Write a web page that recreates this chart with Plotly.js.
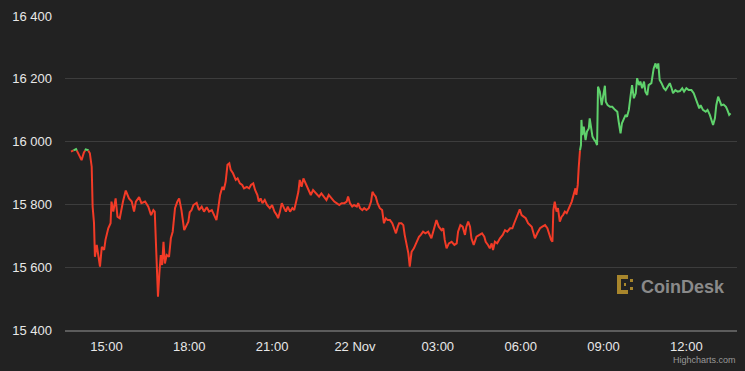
<!DOCTYPE html>
<html>
<head>
<meta charset="utf-8">
<script src="https://cdn.plot.ly/plotly-3.0.1.min.js"></script>
<style>
  html, body { margin: 0; padding: 0; background: #222222; }
  #chart { width: 745px; height: 371px; }
</style>
</head>
<body>
<div id="chart"></div>
<script>
// ---- Data (BTC price, 21-22 Nov 2022) ----
const times = [
  "2022-11-21 13:43","2022-11-21 13:54","2022-11-21 14:02","2022-11-21 14:06","2022-11-21 14:11","2022-11-21 14:15","2022-11-21 14:20","2022-11-21 14:24","2022-11-21 14:28","2022-11-21 14:30",
  "2022-11-21 14:33","2022-11-21 14:35","2022-11-21 14:39","2022-11-21 14:42","2022-11-21 14:46","2022-11-21 14:50","2022-11-21 14:55","2022-11-21 14:58","2022-11-21 15:04","2022-11-21 15:09",
  "2022-11-21 15:11","2022-11-21 15:15","2022-11-21 15:20","2022-11-21 15:24","2022-11-21 15:29","2022-11-21 15:36","2022-11-21 15:42","2022-11-21 15:49","2022-11-21 15:55","2022-11-21 16:00",
  "2022-11-21 16:04","2022-11-21 16:11","2022-11-21 16:16","2022-11-21 16:24","2022-11-21 16:31","2022-11-21 16:37","2022-11-21 16:42","2022-11-21 16:45","2022-11-21 16:47","2022-11-21 16:49",
  "2022-11-21 16:52","2022-11-21 16:55","2022-11-21 16:58","2022-11-21 17:01","2022-11-21 17:04","2022-11-21 17:07","2022-11-21 17:11","2022-11-21 17:16","2022-11-21 17:20","2022-11-21 17:24",
  "2022-11-21 17:29","2022-11-21 17:34","2022-11-21 17:38","2022-11-21 17:43","2022-11-21 17:49","2022-11-21 17:53","2022-11-21 17:58","2022-11-21 18:01","2022-11-21 18:05","2022-11-21 18:09",
  "2022-11-21 18:16","2022-11-21 18:21","2022-11-21 18:27","2022-11-21 18:32","2022-11-21 18:38","2022-11-21 18:43","2022-11-21 18:49","2022-11-21 18:54","2022-11-21 18:59","2022-11-21 19:03",
  "2022-11-21 19:07","2022-11-21 19:12","2022-11-21 19:15","2022-11-21 19:19","2022-11-21 19:23","2022-11-21 19:27","2022-11-21 19:30","2022-11-21 19:35","2022-11-21 19:41","2022-11-21 19:45",
  "2022-11-21 19:50","2022-11-21 19:55","2022-11-21 19:59","2022-11-21 20:05","2022-11-21 20:10","2022-11-21 20:14","2022-11-21 20:19","2022-11-21 20:23","2022-11-21 20:28","2022-11-21 20:31",
  "2022-11-21 20:35","2022-11-21 20:39","2022-11-21 20:44","2022-11-21 20:49","2022-11-21 20:55","2022-11-21 21:00","2022-11-21 21:05","2022-11-21 21:10","2022-11-21 21:13","2022-11-21 21:17",
  "2022-11-21 21:21","2022-11-21 21:26","2022-11-21 21:30","2022-11-21 21:34","2022-11-21 21:39","2022-11-21 21:44","2022-11-21 21:48","2022-11-21 21:53","2022-11-21 21:57","2022-11-21 22:00",
  "2022-11-21 22:04","2022-11-21 22:08","2022-11-21 22:13","2022-11-21 22:18","2022-11-21 22:24","2022-11-21 22:29","2022-11-21 22:35","2022-11-21 22:42","2022-11-21 22:47","2022-11-21 22:52",
  "2022-11-21 22:58","2022-11-21 23:03","2022-11-21 23:09","2022-11-21 23:15","2022-11-21 23:20","2022-11-21 23:26","2022-11-21 23:31","2022-11-21 23:37","2022-11-21 23:42","2022-11-21 23:45",
  "2022-11-21 23:49","2022-11-21 23:54","2022-11-21 23:58","2022-11-22 00:04","2022-11-22 00:07","2022-11-22 00:11","2022-11-22 00:16","2022-11-22 00:20","2022-11-22 00:25","2022-11-22 00:30",
  "2022-11-22 00:35","2022-11-22 00:38","2022-11-22 00:42","2022-11-22 00:45","2022-11-22 00:49","2022-11-22 00:54","2022-11-22 00:59","2022-11-22 01:03","2022-11-22 01:07","2022-11-22 01:11",
  "2022-11-22 01:16","2022-11-22 01:21","2022-11-22 01:25","2022-11-22 01:29","2022-11-22 01:33","2022-11-22 01:36","2022-11-22 01:41","2022-11-22 01:45","2022-11-22 01:48","2022-11-22 01:52",
  "2022-11-22 01:56","2022-11-22 01:59","2022-11-22 02:03","2022-11-22 02:08","2022-11-22 02:14","2022-11-22 02:19","2022-11-22 02:23","2022-11-22 02:28","2022-11-22 02:33","2022-11-22 02:39",
  "2022-11-22 02:46","2022-11-22 02:52","2022-11-22 02:57","2022-11-22 03:02","2022-11-22 03:08","2022-11-22 03:12","2022-11-22 03:15","2022-11-22 03:19","2022-11-22 03:24","2022-11-22 03:30",
  "2022-11-22 03:36","2022-11-22 03:41","2022-11-22 03:44","2022-11-22 03:49","2022-11-22 03:54","2022-11-22 03:59","2022-11-22 04:02","2022-11-22 04:06","2022-11-22 04:10","2022-11-22 04:13",
  "2022-11-22 04:18","2022-11-22 04:24","2022-11-22 04:30","2022-11-22 04:36","2022-11-22 04:41","2022-11-22 04:44","2022-11-22 04:49","2022-11-22 04:53","2022-11-22 04:57","2022-11-22 05:00",
  "2022-11-22 05:04","2022-11-22 05:09","2022-11-22 05:15","2022-11-22 05:21","2022-11-22 05:26","2022-11-22 05:31","2022-11-22 05:37","2022-11-22 05:42","2022-11-22 05:46","2022-11-22 05:51",
  "2022-11-22 05:55","2022-11-22 05:58","2022-11-22 06:02","2022-11-22 06:07","2022-11-22 06:11","2022-11-22 06:16","2022-11-22 06:20","2022-11-22 06:24","2022-11-22 06:27","2022-11-22 06:31",
  "2022-11-22 06:36","2022-11-22 06:42","2022-11-22 06:47","2022-11-22 06:53","2022-11-22 06:58","2022-11-22 07:01","2022-11-22 07:06","2022-11-22 07:09","2022-11-22 07:11","2022-11-22 07:14",
  "2022-11-22 07:18","2022-11-22 07:21","2022-11-22 07:25","2022-11-22 07:29","2022-11-22 07:32","2022-11-22 07:36","2022-11-22 07:40","2022-11-22 07:43","2022-11-22 07:47","2022-11-22 07:51",
  "2022-11-22 07:54","2022-11-22 07:56","2022-11-22 07:59","2022-11-22 08:01","2022-11-22 08:04","2022-11-22 08:06","2022-11-22 08:07","2022-11-22 08:09","2022-11-22 08:11","2022-11-22 08:12",
  "2022-11-22 08:14","2022-11-22 08:17","2022-11-22 08:21","2022-11-22 08:24","2022-11-22 08:28","2022-11-22 08:30","2022-11-22 08:32","2022-11-22 08:36","2022-11-22 08:40","2022-11-22 08:43",
  "2022-11-22 08:46","2022-11-22 08:48","2022-11-22 08:52","2022-11-22 08:56","2022-11-22 08:59","2022-11-22 09:03","2022-11-22 09:05","2022-11-22 09:09","2022-11-22 09:14","2022-11-22 09:19",
  "2022-11-22 09:25","2022-11-22 09:30","2022-11-22 09:33","2022-11-22 09:37","2022-11-22 09:40","2022-11-22 09:44","2022-11-22 09:48","2022-11-22 09:51","2022-11-22 09:55","2022-11-22 09:59",
  "2022-11-22 10:02","2022-11-22 10:06","2022-11-22 10:10","2022-11-22 10:13","2022-11-22 10:17","2022-11-22 10:20","2022-11-22 10:24","2022-11-22 10:28","2022-11-22 10:31","2022-11-22 10:35",
  "2022-11-22 10:38","2022-11-22 10:44","2022-11-22 10:49","2022-11-22 10:53","2022-11-22 10:56","2022-11-22 10:59","2022-11-22 11:02","2022-11-22 11:06","2022-11-22 11:11","2022-11-22 11:15",
  "2022-11-22 11:20","2022-11-22 11:24","2022-11-22 11:28","2022-11-22 11:31","2022-11-22 11:36","2022-11-22 11:41","2022-11-22 11:46","2022-11-22 11:51","2022-11-22 11:55","2022-11-22 12:00",
  "2022-11-22 12:05","2022-11-22 12:11","2022-11-22 12:16","2022-11-22 12:20","2022-11-22 12:23","2022-11-22 12:28","2022-11-22 12:31","2022-11-22 12:36","2022-11-22 12:42","2022-11-22 12:46",
  "2022-11-22 12:51","2022-11-22 12:55","2022-11-22 12:58","2022-11-22 13:02","2022-11-22 13:05","2022-11-22 13:09","2022-11-22 13:13","2022-11-22 13:16","2022-11-22 13:21","2022-11-22 13:26",
  "2022-11-22 13:29","2022-11-22 13:33","2022-11-22 13:36"
];
const prices = [
  15968,15976,15955,15941,15965,15975,15973,15963,15920,15793,
  15741,15633,15671,15639,15602,15665,15655,15687,15724,15740,
  15809,15777,15819,15761,15756,15809,15844,15819,15809,15777,
  15809,15823,15804,15809,15793,15766,15782,15777,15687,15602,
  15506,15580,15639,15607,15681,15612,15639,15633,15692,15713,
  15788,15809,15819,15782,15718,15730,15745,15775,15782,15798,
  15805,15782,15793,15777,15791,15777,15782,15766,15750,15788,
  15830,15856,15846,15872,15926,15931,15910,15899,15878,15883,
  15867,15862,15851,15856,15851,15862,15867,15846,15830,15809,
  15819,15804,15814,15798,15788,15798,15777,15766,15756,15777,
  15804,15788,15777,15793,15777,15788,15782,15814,15840,15878,
  15856,15883,15867,15846,15830,15846,15835,15825,15835,15825,
  15814,15830,15819,15809,15804,15798,15804,15804,15809,15825,
  15804,15793,15798,15793,15804,15788,15782,15788,15782,15788,
  15809,15840,15830,15825,15804,15788,15782,15740,15756,15750,
  15750,15740,15724,15708,15729,15740,15740,15734,15703,15671,
  15644,15602,15649,15660,15681,15697,15703,15713,15708,15713,
  15692,15724,15750,15729,15718,15724,15687,15660,15676,15681,
  15671,15676,15713,15734,15729,15703,15729,15745,15729,15692,
  15671,15697,15703,15708,15697,15681,15671,15660,15676,15655,
  15681,15676,15692,15703,15718,15713,15724,15724,15740,15756,
  15772,15784,15766,15761,15756,15740,15734,15729,15713,15692,
  15708,15724,15729,15734,15724,15708,15687,15681,15782,15809,
  15777,15788,15745,15761,15766,15777,15772,15782,15793,15809,
  15825,15835,15851,15830,15862,15915,15957,15973,15989,16069,
  16021,16048,16005,16032,16042,16074,16048,16016,16005,16000,
  15989,16175,16159,16116,16143,16178,16127,16116,16111,16111,
  16101,16095,16063,16026,16058,16074,16085,16079,16101,16148,
  16180,16138,16154,16202,16180,16191,16170,16191,16159,16148,
  16180,16186,16233,16249,16233,16249,16196,16186,16170,16164,
  16175,16186,16170,16154,16164,16159,16161,16170,16159,16170,
  16164,16164,16154,16138,16122,16106,16116,16101,16095,16101,
  16085,16069,16053,16074,16116,16143,16127,16116,16118,16111,
  16101,16085,16090
];
const openPrice = 15972;           // colour threshold (green above, red below)
const yTickVals = [15400, 15600, 15800, 16000, 16200, 16400];
const yTickText = ["15 400", "15 600", "15 800", "16 000", "16 200", "16 400"];
const xTickVals = ["2022-11-21 15:00","2022-11-21 18:00","2022-11-21 21:00","2022-11-22 00:00",
                   "2022-11-22 03:00","2022-11-22 06:00","2022-11-22 09:00","2022-11-22 12:00"];
const xTickText = ["15:00","18:00","21:00","22 Nov","03:00","06:00","09:00","12:00"];

// ---- Split the line into red / green parts at the threshold ----
const toMs = s => Date.parse(s.replace(' ', 'T') + ':00Z');
const red = {x: [], y: []}, green = {x: [], y: []};
for (let i = 0; i < prices.length; i++) {
  const t = toMs(times[i]), v = prices[i];
  const cur = v > openPrice ? green : red;
  cur.x.push(t); cur.y.push(v);
  if (i < prices.length - 1) {
    const t2 = toMs(times[i + 1]), v2 = prices[i + 1];
    const nxt = v2 > openPrice ? green : red;
    if (nxt !== cur) {
      const f = (openPrice - v) / (v2 - v);
      const tc = t + f * (t2 - t);
      cur.x.push(tc); cur.y.push(openPrice);
      cur.x.push(null); cur.y.push(null);
      nxt.x.push(tc); nxt.y.push(openPrice);
    }
  }
}

const traces = [
  {x: red.x, y: red.y, type: 'scatter', mode: 'lines', connectgaps: false,
   line: {color: '#f23b27', width: 2}, hoverinfo: 'skip'},
  {x: green.x, y: green.y, type: 'scatter', mode: 'lines', connectgaps: false,
   line: {color: '#5fd26c', width: 2}, hoverinfo: 'skip'}
];

// ---- Layout ----
const L = 65, R = 737, T = 16, B = 330;
const px = x => (x - L) / (R - L);
const py = y => (B - y) / (B - T);
const gold = '#a8862c';
const rect = (x0, y0, x1, y1) => ({type: 'rect', xref: 'paper', yref: 'paper',
  x0: px(x0), x1: px(x1), y0: py(y1), y1: py(y0), fillcolor: gold, line: {width: 0}, layer: 'above'});

const layout = {
  width: 745, height: 371,
  margin: {l: L, r: 745 - R, t: T, b: 371 - B, pad: 0},
  paper_bgcolor: '#222222', plot_bgcolor: '#222222',
  showlegend: false,
  font: {family: 'Liberation Sans, Arial, Helvetica, sans-serif', color: '#e8e8e8', size: 13},
  xaxis: {
    type: 'date',
    range: [toMs("2022-11-21 13:30"), toMs("2022-11-22 13:50")],
    tickvals: xTickVals.map(toMs), ticktext: xTickText,
    showgrid: false, zeroline: false,
    showline: true, linecolor: '#5c5c5c', linewidth: 1.5,
    ticks: 'outside', ticklen: 4, tickcolor: 'rgba(0,0,0,0)',
    tickfont: {size: 13, color: '#e8e8e8'},
    fixedrange: true
  },
  yaxis: {
    range: [15400, 16400],
    tickvals: yTickVals, ticktext: yTickText,
    showgrid: true, gridcolor: '#3d3d3d', gridwidth: 1,
    zeroline: false, showline: false,
    ticks: '', ticklabelstandoff: 12,
    tickfont: {size: 13, color: '#e8e8e8'},
    fixedrange: true
  },
  shapes: [
    rect(617, 275, 621, 294),
    rect(617, 275, 628, 279),
    rect(617, 290, 628, 294),
    rect(630, 279, 633, 282),
    rect(630, 287, 633, 290),
    rect(624, 283, 626, 286)
  ],
  annotations: [
    {text: '<b>CoinDesk</b>', xref: 'paper', yref: 'paper', x: px(639), y: py(287),
     xanchor: 'left', yanchor: 'middle', showarrow: false,
     font: {size: 18, color: '#8a8a8a', family: 'Liberation Sans, Arial, sans-serif'}},
    {text: 'Highcharts.com', xref: 'paper', yref: 'paper', x: px(738), y: py(360),
     xanchor: 'right', yanchor: 'middle', showarrow: false,
     font: {size: 9, color: '#999999'}}
  ]
};

Plotly.newPlot('chart', traces, layout, {displayModeBar: false, staticPlot: true});
</script>
</body>
</html>
